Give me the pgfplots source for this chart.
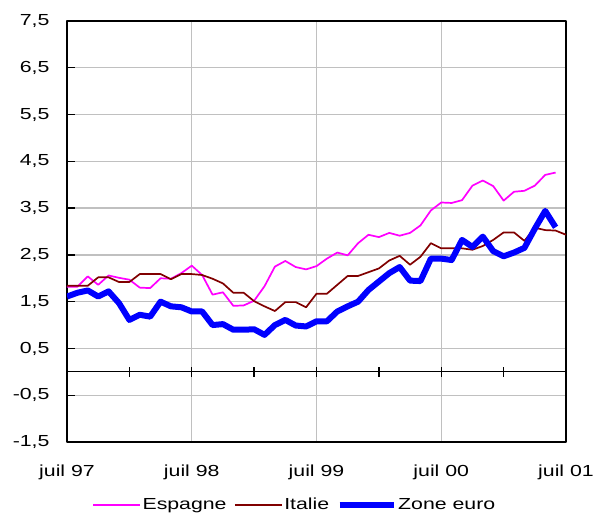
\documentclass[border=0pt]{standalone}
\usepackage{pgfplots}
\pgfplotsset{compat=1.18}
\usepackage{fontspec}
\setmainfont{Liberation Sans}[FakeStretch=1.33]
\definecolor{esp}{HTML}{FF00FF}
\definecolor{ita}{HTML}{800000}
\definecolor{zone}{HTML}{0000FF}
\definecolor{gridc}{HTML}{C0C0C0}
\pgfplotsset{longlegend/.style={legend image code/.code={\draw[##1] (0pt,0pt) -- (54pt,0pt);}}}
\begin{document}
\begin{tikzpicture}
\begin{axis}[
  scale only axis, width=499pt, height=421pt,
  xmin=0, xmax=48, ymin=-1.5, ymax=7.5,
  font=\fontsize{16}{19}\selectfont,
  axis line style={line width=1.3pt},
  xtick={0,12,24,36,48},
  xticklabels={juil 97,juil 98,juil 99,juil 00,juil 01},
  major x tick style={draw=none},
  xticklabel style={yshift=-19pt},
  ytick={-1.5,-0.5,0.5,1.5,2.5,3.5,4.5,5.5,6.5,7.5},
  ytick pos=left, tick align=inside, major tick length=8pt,
  major y tick style={line width=1.3pt, black},
  yticklabel style={xshift=-14pt, /pgf/number format/.cd, fixed, fixed zerofill, precision=1, use comma, assume math mode=true},
  xmajorgrids, ymajorgrids,
  grid style={color=gridc, line width=1.3pt},
  legend style={draw=none, fill=none, legend columns=3, at={(0.456,-0.125)}, anchor=north,
    font=\fontsize{16}{19}\selectfont, /tikz/every even column/.append style={column sep=6pt},
    nodes={inner sep=1.5pt}},
  legend image code/.code={\draw[#1] (0pt,0pt) -- (47pt,0pt);},
  line join=round,
]
\draw[line width=1.3pt, black] (axis cs:0,0) -- (axis cs:48,0);
\pgfplotsinvokeforeach{6,12,18,24,30,36,42,48}{
  \draw[line width=1.3pt, black] ([yshift=-5pt]axis cs:#1,0) -- ([yshift=5pt]axis cs:#1,0);
}
\addplot[esp, line width=1.7pt] coordinates {
(0,1.82) (1,1.82) (2,2.04) (3,1.86) (4,2.06) (5,2.01) (6,1.97) (7,1.80) (8,1.79) (9,2.00)
(10,1.99) (11,2.11) (12,2.27) (13,2.07) (14,1.65) (15,1.70) (16,1.41) (17,1.42) (18,1.52) (19,1.83)
(20,2.25) (21,2.37) (22,2.24) (23,2.19) (24,2.26) (25,2.42) (26,2.55) (27,2.49) (28,2.75) (29,2.93)
(30,2.88) (31,2.97) (32,2.91) (33,2.97) (34,3.13) (35,3.45) (36,3.62) (37,3.61) (38,3.67) (39,3.98)
(40,4.09) (41,3.97) (42,3.66) (43,3.85) (44,3.87) (45,3.98) (46,4.21) (47,4.26)
};
\addlegendentry{Espagne}
\addplot[ita, line width=1.7pt] coordinates {
(0,1.84) (1,1.84) (2,1.84) (3,2.02) (4,2.02) (5,1.92) (6,1.92) (7,2.09) (8,2.09) (9,2.09)
(10,1.98) (11,2.09) (12,2.09) (13,2.07) (14,1.99) (15,1.89) (16,1.69) (17,1.69) (18,1.51) (19,1.40)
(20,1.30) (21,1.49) (22,1.49) (23,1.38) (24,1.67) (25,1.67) (26,1.86) (27,2.05) (28,2.05) (29,2.13)
(30,2.21) (31,2.38) (32,2.48) (33,2.29) (34,2.46) (35,2.75) (36,2.64) (37,2.64) (38,2.64) (39,2.61)
(40,2.69) (41,2.82) (42,2.98) (43,2.98) (44,2.80) (45,3.08) (46,3.03) (47,3.02) (48,2.93)
};
\addlegendentry{Italie}
\addplot[zone, line width=6pt, longlegend] coordinates {
(0,1.61) (1,1.69) (2,1.74) (3,1.61) (4,1.72) (5,1.47) (6,1.11) (7,1.22) (8,1.18) (9,1.50)
(10,1.40) (11,1.38) (12,1.29) (13,1.29) (14,1.00) (15,1.02) (16,0.90) (17,0.90) (18,0.91) (19,0.79)
(20,1.00) (21,1.11) (22,0.99) (23,0.97) (24,1.08) (25,1.08) (26,1.29) (27,1.40) (28,1.50) (29,1.75)
(30,1.93) (31,2.11) (32,2.24) (33,1.95) (34,1.94) (35,2.42) (36,2.42) (37,2.39) (38,2.82) (39,2.67)
(40,2.89) (41,2.58) (42,2.47) (43,2.55) (44,2.65) (45,3.06) (46,3.44) (47,3.09)
};
\addlegendentry{Zone euro}
\end{axis}
\pgfresetboundingbox
\path[use as bounding box] ([xshift=-67pt,yshift=21pt]current axis.north west) rectangle ([xshift=27pt,yshift=-71pt]current axis.south east);
\end{tikzpicture}
\end{document}
